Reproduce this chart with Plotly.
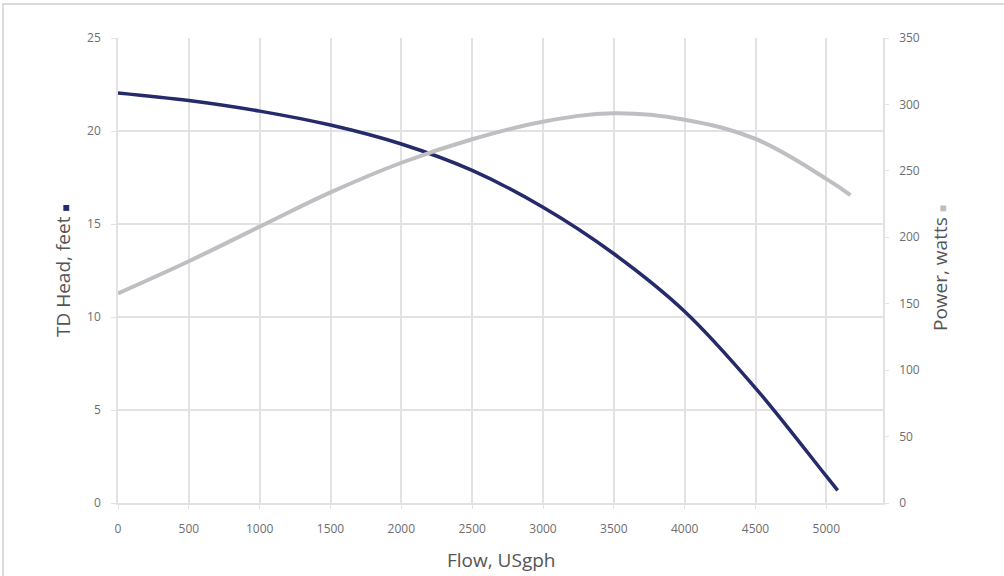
import plotly.graph_objects as go

flow_head = [0, 500, 1000, 1500, 2000, 2500, 3000, 3500, 4000, 4500, 5000, 5080]
head_ft = [22.05, 21.64, 21.07, 20.32, 19.30, 17.88, 15.90, 13.40, 10.30, 6.18, 1.44, 0.68]

flow_power = [0, 500, 1000, 1500, 2000, 2500, 3000, 3500, 4000, 4500, 5000, 5170]
power_w = [157.8, 182.0, 208.0, 233.8, 256.1, 273.8, 287.0, 293.3, 288.5, 274.0, 244.0, 231.8]

x_ticks = [0, 500, 1000, 1500, 2000, 2500, 3000, 3500, 4000, 4500, 5000]
y_ticks = [0, 5, 10, 15, 20, 25]
y2_ticks = [0, 50, 100, 150, 200, 250, 300, 350]

NAVY = "#252a6b"
GREY = "#bfbfc3"
GRID = "#e2e2e2"
TICKC = "#6e6e6e"
TITLEC = "#555555"
FONT = "Open Sans"

fig = go.Figure()
fig.add_trace(go.Scatter(x=flow_power, y=power_w, mode="lines", yaxis="y2",
                         line=dict(color=GREY, width=4, shape="spline", smoothing=1.1),
                         name="Power, watts", hoverinfo="x+y"))
fig.add_trace(go.Scatter(x=flow_head, y=head_ft, mode="lines",
                         line=dict(color=NAVY, width=3.5, shape="spline", smoothing=1.0),
                         name="TD Head, feet", hoverinfo="x+y"))

fig.update_layout(
    width=1004, height=576,
    margin=dict(l=118, r=121, t=38, b=73),
    paper_bgcolor="white", plot_bgcolor="white",
    showlegend=False,
    font=dict(family=FONT, color=TICKC, size=12),
    xaxis=dict(range=[0, 5400], tickvals=x_ticks, showgrid=True, gridcolor=GRID, gridwidth=1.5,
               showline=True, linecolor=GRID, linewidth=1.5, mirror=False,
               ticks="outside", ticklen=4, tickcolor=GRID, ticklabelstandoff=10,
               zeroline=False, tickfont=dict(size=12, color=TICKC)),
    yaxis=dict(range=[0, 25], tickvals=y_ticks, showgrid=True, gridcolor=GRID, gridwidth=1.5,
               showline=True, linecolor=GRID, linewidth=1.5,
               ticks="outside", ticklen=5, tickcolor=GRID, ticklabelstandoff=8,
               zeroline=False, tickfont=dict(size=12, color=TICKC)),
    yaxis2=dict(range=[0, 350], tickvals=y2_ticks, overlaying="y", side="right",
                showgrid=False, showline=True, linecolor=GRID, linewidth=1.5,
                ticks="outside", ticklen=4, tickcolor=GRID, ticklabelstandoff=8,
                zeroline=False, tickfont=dict(size=12, color=TICKC)),
)

fig.add_annotation(text="Flow, USgph", xref="paper", yref="paper",
                   x=(501 - 118) / 765, y=(503 - 560) / 465, showarrow=False,
                   font=dict(size=19, color=TITLEC, family=FONT), xanchor="center", yanchor="middle")
fig.add_annotation(text="TD Head, feet <span style='color:%s;font-size:12px'>■</span>" % NAVY,
                   xref="paper", yref="paper", x=(63 - 118) / 765, y=(503 - 271) / 465,
                   textangle=-90, showarrow=False, xanchor="center", yanchor="middle",
                   font=dict(size=19, color=TITLEC, family=FONT))
fig.add_annotation(text="Power, watts <span style='color:%s;font-size:12px'>■</span>" % GREY,
                   xref="paper", yref="paper", x=(940 - 118) / 765, y=(503 - 268) / 465,
                   textangle=-90, showarrow=False, xanchor="center", yanchor="middle",
                   font=dict(size=19, color=TITLEC, family=FONT))

fig.add_shape(type="rect", xref="paper", yref="paper",
              x0=(3 - 118) / 765, x1=(1010 - 118) / 765,
              y0=(503 - 600) / 465, y1=(503 - 4) / 465,
              line=dict(color="#cfcfcf", width=1.5), layer="below")

fig.write_html("out.html", config={"displayModeBar": False},
               post_script="document.body.style.margin='0';document.body.style.overflow='hidden';")
